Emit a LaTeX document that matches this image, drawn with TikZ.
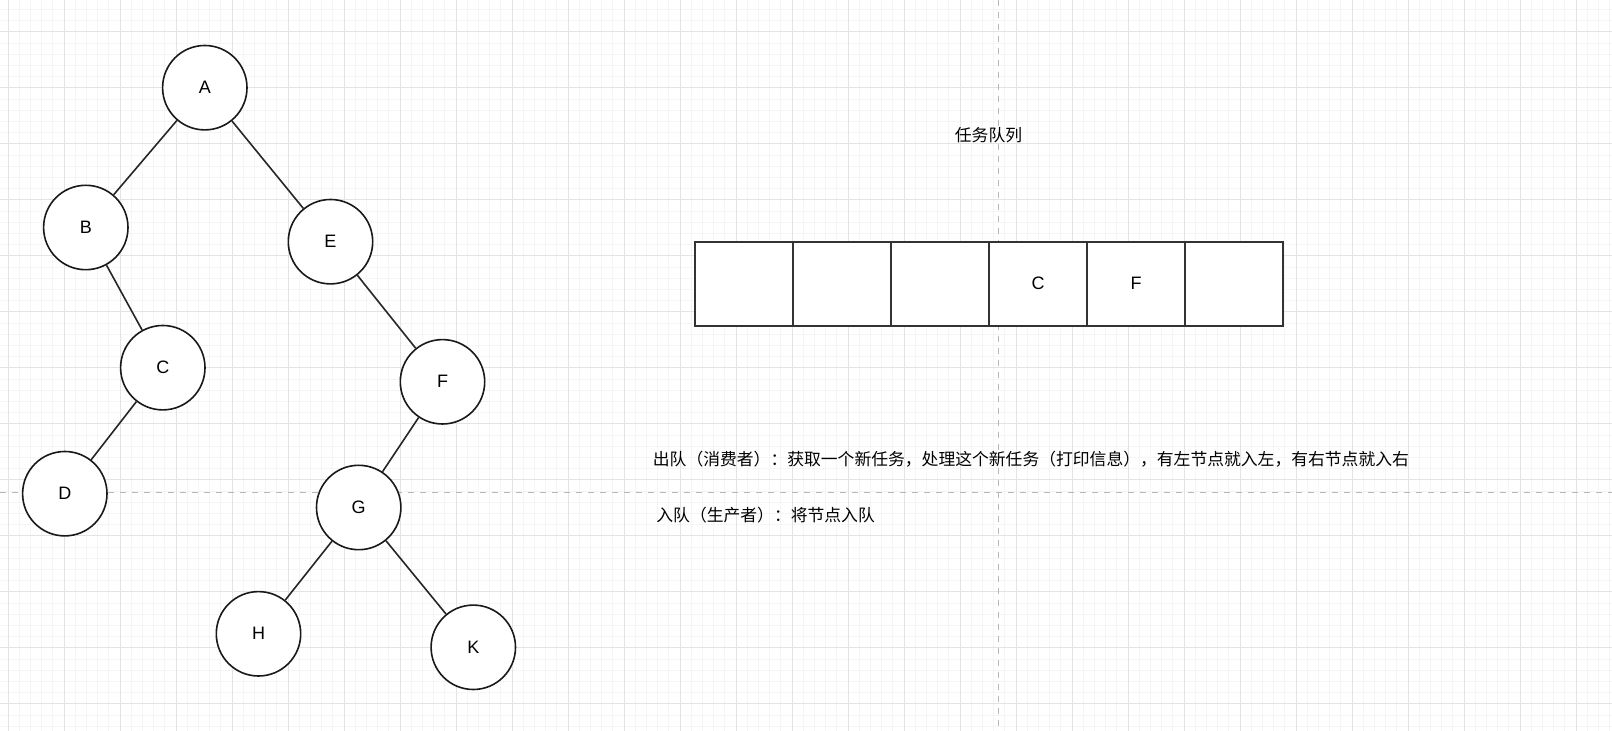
\documentclass[tikz,border=0pt]{standalone}
\usepackage{fontspec}
\setmainfont{Liberation Sans}
\newfontfamily\cjk{Noto Sans CJK SC}
\begin{document}
\begin{tikzpicture}[x=0.5pt,y=-0.5pt,
  minorgrid/.style={draw=black!4,line width=0.5pt},
  majorgrid/.style={draw=black!11,line width=0.5pt},
  guide/.style={draw=black!28,line width=0.5pt,dash pattern=on 3pt off 3pt},
  tnode/.style={circle,draw=black!90,fill=white,line width=0.8pt,minimum size=42.2pt,inner sep=0pt,font=\fontsize{9pt}{10pt}\selectfont},
  tedge/.style={draw=black!85,line width=0.8pt},
  cell/.style={rectangle,draw=black!80,fill=white,line width=0.8pt,minimum width=49pt,minimum height=42pt,inner sep=0pt,font=\fontsize{9pt}{10pt}\selectfont},
  label/.style={inner sep=0pt,font=\cjk\fontsize{8.4pt}{10pt}\selectfont}]
\useasboundingbox (0,0) rectangle (1612,731);
\fill[white] (0,0) rectangle (1612,731);
% grid
\foreach \i in {0,...,143} {\draw[minorgrid] ({8+11.2*\i},0) -- ({8+11.2*\i},731);}
\foreach \j in {0,...,64} {\draw[minorgrid] (0,{9.6+11.2*\j}) -- (1612,{9.6+11.2*\j});}
\foreach \i in {0,...,28} {\draw[majorgrid] ({8+56*\i},0) -- ({8+56*\i},731);}
\foreach \j in {0,...,12} {\draw[majorgrid] (0,{32+56*\j}) -- (1612,{32+56*\j});}
% guides
\coordinate (vt) at (998.5,0);
\coordinate (vb) at (998.5,731);
\coordinate (hl) at (0,492.3);
\coordinate (hr) at (1612,492.3);
\draw[guide] (vt) -- (vb);
\draw[guide] (hl) -- (hr);
% tree
\node[tnode] (A) at (204.8,87.7) {A};
\node[tnode] (B) at (85.8,227.5) {B};
\node[tnode] (E) at (330.5,241.7) {E};
\node[tnode] (C) at (162.8,367.7) {C};
\node[tnode] (F) at (442.5,381.8) {F};
\node[tnode] (D) at (64.8,493.7) {D};
\node[tnode] (G) at (358.7,507.5) {G};
\node[tnode] (H) at (258.5,633.8) {H};
\node[tnode] (K) at (473.3,647.3) {K};
\draw[tedge] (A) -- (B);
\draw[tedge] (A) -- (E);
\draw[tedge] (B) -- (C);
\draw[tedge] (E) -- (F);
\draw[tedge] (C) -- (D);
\draw[tedge] (F) -- (G);
\draw[tedge] (G) -- (H);
\draw[tedge] (G) -- (K);
% queue
\node[cell] (q1) at (744,283.75) {};
\node[cell] (q2) at (842,283.75) {};
\node[cell] (q3) at (940,283.75) {};
\node[cell] (q4) at (1038,283.75) {C};
\node[cell] (q5) at (1136,283.75) {F};
\node[cell] (q6) at (1234,283.75) {};
% texts
\node[label] (title) at (988.5,135.5) {任务队列};
\node[label,anchor=west] (deq) at (652.5,459) {出队（消费者）：获取一个新任务，处理这个新任务（打印信息），有左节点就入左，有右节点就入右};
\node[label,anchor=west] (enq) at (656,515) {入队（生产者）：将节点入队};
\end{tikzpicture}
\end{document}
